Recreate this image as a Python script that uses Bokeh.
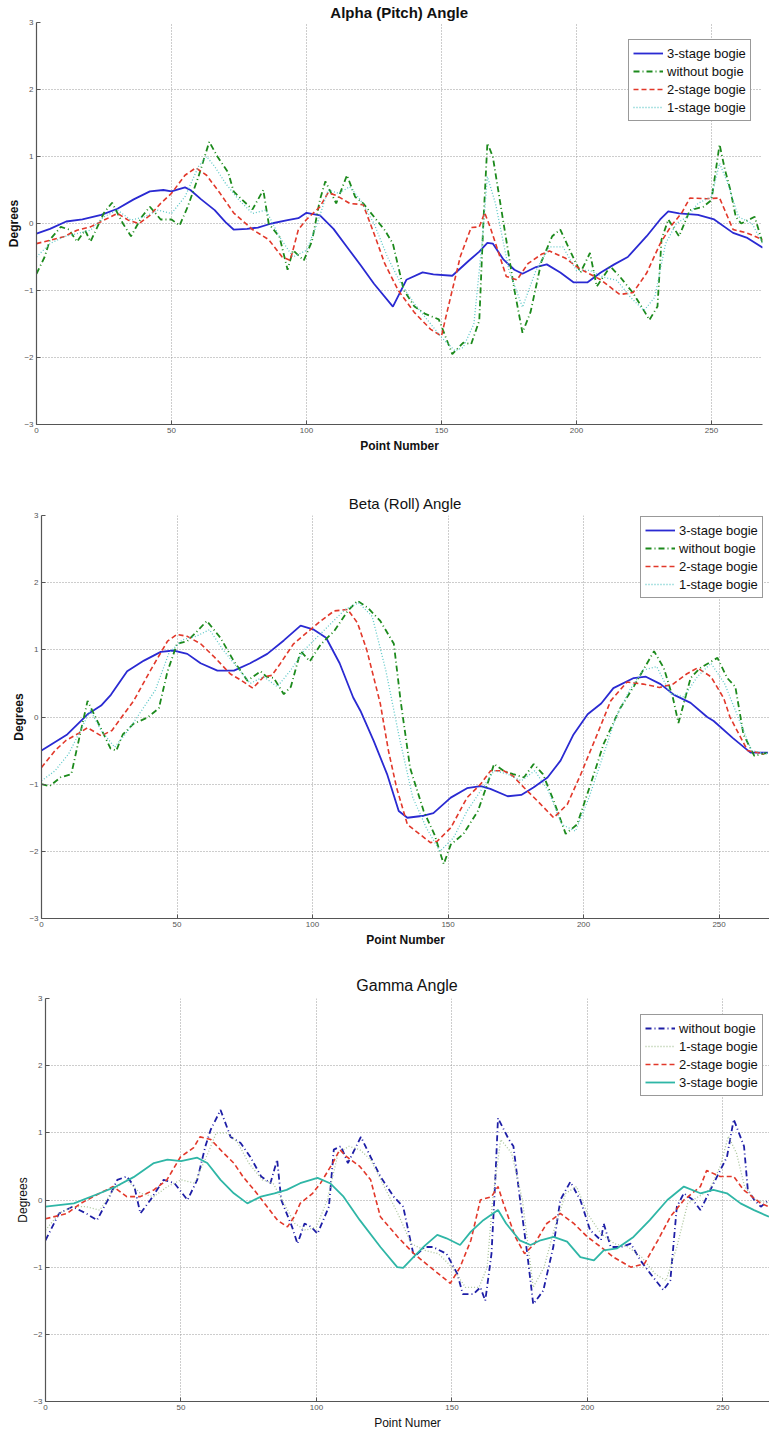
from bokeh.plotting import figure
from bokeh.layouts import column, row
from bokeh.models import Range1d, FixedTicker, Legend, LegendItem
from bokeh.embed import file_html
from bokeh.resources import INLINE

# ---------------- Alpha (Pitch) Angle ----------------
alpha_3stage_x = [0, 5, 11, 17, 24, 30, 36, 42, 47, 50, 55, 57, 61, 66, 70, 73, 78, 82, 87, 93, 97, 100, 105, 110, 115, 120, 125, 132, 137, 143, 147, 154, 160, 164, 167, 169, 173, 177, 180, 185, 189, 194, 199, 204, 209, 214, 219, 226, 231, 234, 238, 245, 251, 258, 263, 269]
alpha_3stage_y = [-0.15, -0.08, 0.03, 0.06, 0.13, 0.22, 0.36, 0.48, 0.5, 0.48, 0.54, 0.5, 0.36, 0.2, 0.02, -0.09, -0.08, -0.06, 0.0, 0.05, 0.08, 0.16, 0.12, -0.08, -0.35, -0.62, -0.9, -1.24, -0.84, -0.73, -0.76, -0.78, -0.56, -0.42, -0.29, -0.3, -0.54, -0.69, -0.75, -0.65, -0.61, -0.73, -0.88, -0.88, -0.73, -0.61, -0.5, -0.19, 0.06, 0.18, 0.15, 0.13, 0.06, -0.14, -0.21, -0.36]

alpha_without_x = [0, 3, 5, 9, 12, 15, 18, 20, 25, 28, 32, 35, 39, 42, 46, 50, 53, 56, 60, 64, 67, 71, 73, 76, 80, 84, 86, 90, 93, 95, 99, 102, 105, 107, 111, 115, 118, 121, 125, 129, 132, 136, 140, 144, 149, 154, 158, 161, 164, 165.5, 167, 169, 172, 177, 180, 183, 187, 191, 194, 198, 201.5, 205, 207.5, 212.5, 216, 221, 225, 227, 230, 231.5, 234, 238, 242, 247, 250, 253, 255, 257, 259, 261, 266, 269]
alpha_without_y = [-0.75, -0.5, -0.24, -0.05, -0.09, -0.27, -0.1, -0.27, 0.16, 0.31, 0.0, -0.19, 0.1, 0.25, 0.06, 0.06, -0.03, 0.25, 0.7, 1.22, 1.0, 0.76, 0.48, 0.36, 0.21, 0.5, 0.0, -0.2, -0.69, -0.4, -0.55, -0.27, 0.36, 0.63, 0.3, 0.72, 0.4, 0.3, 0.1, -0.1, -0.3, -0.99, -1.24, -1.35, -1.43, -1.95, -1.78, -1.8, -1.45, 0.0, 1.2, 1.0, 0.25, -0.99, -1.63, -1.32, -0.57, -0.19, -0.09, -0.44, -0.73, -0.44, -0.94, -0.64, -0.79, -1.04, -1.3, -1.44, -1.24, -0.24, 0.06, -0.19, 0.2, 0.25, 0.35, 1.18, 0.8, 0.5, 0.1, 0.0, 0.1, -0.3]

alpha_2stage_x = [0, 5, 10, 15, 20, 25, 30, 34, 38, 42, 46, 50, 55, 59, 63, 68, 73, 80, 86, 91, 94, 97, 100, 105, 108, 111, 116, 121, 125, 129, 134, 140, 146, 150, 152, 157, 161, 164, 166, 168, 172, 174, 178, 182, 187, 190, 196, 201, 209, 216, 221, 226, 231, 235, 239, 242, 248, 253, 258, 263, 269]
alpha_2stage_y = [-0.3, -0.25, -0.2, -0.1, -0.05, 0.05, 0.15, 0.05, 0.0, 0.12, 0.3, 0.45, 0.72, 0.83, 0.72, 0.45, 0.16, -0.09, -0.24, -0.5, -0.55, -0.09, 0.06, 0.25, 0.46, 0.42, 0.3, 0.28, -0.15, -0.6, -1.0, -1.33, -1.58, -1.68, -1.33, -0.49, -0.06, -0.05, 0.16, -0.05, -0.54, -0.79, -0.84, -0.6, -0.46, -0.41, -0.52, -0.67, -0.84, -1.06, -1.03, -0.74, -0.3, -0.04, 0.16, 0.38, 0.37, 0.38, -0.09, -0.14, -0.24]

alpha_1stage_x = [0, 5, 10, 15, 20, 25, 30, 35, 40, 45, 50, 55, 60, 63, 66, 70, 75, 80, 85, 90, 95, 100, 104, 108, 112, 116, 120, 125, 130, 135, 140, 145, 150, 155, 158, 162, 165, 167, 170, 175, 180, 185, 190, 195, 200, 205, 210, 215, 220, 225, 229, 233, 237, 241, 245, 250, 253, 256, 260, 265, 269]
alpha_1stage_y = [-0.5, -0.3, -0.2, -0.15, -0.1, 0.1, 0.2, 0.05, 0.1, 0.2, 0.15, 0.4, 0.85, 1.0, 0.85, 0.6, 0.35, 0.15, 0.2, -0.2, -0.5, -0.4, 0.0, 0.5, 0.45, 0.55, 0.35, 0.0, -0.5, -0.9, -1.2, -1.45, -1.7, -1.9, -1.85, -1.5, -0.3, 0.7, 0.3, -0.7, -1.25, -0.7, -0.35, -0.35, -0.7, -0.7, -0.8, -0.85, -1.1, -1.3, -1.1, -0.3, 0.0, 0.1, 0.3, 0.4, 0.9, 0.6, 0.1, 0.0, -0.3]

# ---------------- Beta (Roll) Angle ----------------
beta_3stage_x = [0, 9.5, 17, 22, 25.6, 31.6, 37.8, 44, 48.8, 53.8, 58.7, 64.9, 71, 77, 83.3, 89.4, 95.6, 100.5, 105, 110, 115, 117.7, 122.6, 127.5, 131.8, 135, 141, 144.6, 151, 157, 162, 165.6, 172, 177, 181.5, 186.7, 191.5, 196.3, 201.5, 206.5, 211, 218.5, 223, 228.4, 233.4, 239.5, 245.6, 248, 255, 261.6, 268]
beta_3stage_y = [-0.5, -0.26, 0.04, 0.17, 0.33, 0.68, 0.84, 0.97, 0.99, 0.94, 0.8, 0.69, 0.69, 0.8, 0.94, 1.14, 1.36, 1.3, 1.18, 0.8, 0.29, 0.09, -0.36, -0.85, -1.4, -1.5, -1.47, -1.43, -1.2, -1.06, -1.03, -1.07, -1.18, -1.16, -1.05, -0.9, -0.65, -0.26, 0.04, 0.2, 0.43, 0.58, 0.6, 0.49, 0.33, 0.21, 0.0, -0.06, -0.31, -0.53, -0.53]

beta_without_x = [0, 3, 7, 11, 14, 17, 20.6, 25.5, 27.6, 30, 34, 39, 43.3, 46.5, 50, 53.8, 57.5, 61, 66, 71, 76, 80.8, 83, 85.7, 89.4, 92, 95.6, 99, 103, 108, 113, 116.6, 120.3, 125, 130, 132.5, 136, 141, 145, 148.4, 151, 155.7, 161, 164.5, 167, 170.5, 174, 178, 181.6, 185, 189, 193.4, 197.6, 202.6, 207.4, 213.5, 218.6, 222.3, 226, 229.6, 233, 235, 239.5, 243, 249.4, 253, 256, 259, 263, 268]
beta_without_y = [-1.0, -1.03, -0.9, -0.85, -0.3, 0.24, -0.06, -0.47, -0.5, -0.26, -0.1, -0.01, 0.13, 0.68, 1.09, 1.13, 1.28, 1.43, 1.18, 0.83, 0.54, 0.68, 0.6, 0.58, 0.34, 0.45, 0.98, 0.83, 1.08, 1.28, 1.58, 1.73, 1.63, 1.43, 1.09, 0.24, -0.76, -1.4, -1.75, -2.19, -1.9, -1.74, -1.4, -1.0, -0.7, -0.8, -0.85, -0.9, -0.7, -0.85, -1.25, -1.74, -1.6, -1.0, -0.4, 0.13, 0.46, 0.72, 0.98, 0.73, 0.28, -0.09, 0.58, 0.73, 0.88, 0.58, 0.45, -0.26, -0.58, -0.53]

beta_2stage_x = [0, 5, 9, 13.8, 17, 22, 26, 29.6, 34, 40, 46.5, 50, 53.8, 58.7, 63.6, 69.7, 73.5, 78, 82, 85, 88, 93, 98, 103, 108, 113, 116.6, 120, 125, 128, 131, 135, 143.5, 146, 151, 157, 162, 165.7, 170.5, 174, 178, 183, 189, 194, 199, 205, 210, 216, 222, 228, 233, 238, 242, 247, 251.7, 254, 260.5, 266.6]
beta_2stage_y = [-0.75, -0.5, -0.35, -0.24, -0.16, -0.28, -0.2, 0.0, 0.24, 0.68, 1.13, 1.23, 1.2, 1.09, 0.9, 0.64, 0.55, 0.43, 0.6, 0.62, 0.79, 1.09, 1.26, 1.43, 1.58, 1.6, 1.4, 1.0, 0.2, -0.5, -1.05, -1.6, -1.87, -1.85, -1.65, -1.2, -1.0, -0.8, -0.8, -0.88, -1.05, -1.25, -1.5, -1.3, -0.85, -0.26, 0.24, 0.52, 0.49, 0.44, 0.49, 0.64, 0.73, 0.6, 0.28, 0.0, -0.5, -0.55]

beta_1stage_x = [0, 5, 10, 15, 18, 22, 27, 32, 37, 42, 47, 52, 57, 62, 67, 72, 77, 82, 87, 92, 97, 102, 107, 112, 117, 122, 127, 132, 137, 142, 147, 152, 157, 162, 167, 172, 177, 182, 187, 192, 197, 202, 207, 212, 217, 222, 227, 232, 237, 242, 247, 252, 257, 262, 268]
beta_1stage_y = [-0.95, -0.8, -0.55, -0.15, 0.1, -0.2, -0.45, -0.2, 0.1, 0.4, 0.95, 1.15, 1.2, 1.3, 1.0, 0.75, 0.5, 0.6, 0.45, 0.7, 1.0, 1.2, 1.4, 1.6, 1.7, 1.5, 0.7, -0.3, -1.2, -1.65, -2.0, -1.8, -1.4, -1.1, -0.8, -0.85, -0.95, -0.8, -1.1, -1.6, -1.7, -1.2, -0.6, 0.0, 0.4, 0.7, 0.75, 0.35, 0.3, 0.6, 0.8, 0.5, 0.0, -0.5, -0.55]

# ---------------- Gamma Angle ----------------
gamma_without_x = [0, 5, 10, 15, 19, 23, 26.5, 30, 32.8, 35, 38.7, 43.6, 47.6, 52.4, 56, 59, 61, 64.6, 68.3, 72, 75.6, 79.6, 83, 85.5, 87, 88, 91, 93, 95.6, 98, 100.4, 104.6, 106.4, 109, 111.6, 116.4, 120, 123.6, 128.5, 132, 136, 140, 143, 148, 152, 154, 158, 160.5, 162.3, 164.6, 166, 167, 171, 172.7, 175, 177.8, 180, 183.7, 187.4, 190, 193.7, 197.4, 201, 205, 206, 208.6, 212.4, 216, 219.6, 223.3, 228, 230.6, 233, 235.6, 239, 241.7, 246.6, 251.5, 254, 257.8, 259.2, 261.6, 264, 267]
gamma_without_y = [-0.6, -0.2, -0.1, -0.2, -0.3, 0.0, 0.3, 0.35, 0.2, -0.2, 0.0, 0.3, 0.25, 0.0, 0.3, 0.8, 1.05, 1.34, 0.94, 0.85, 0.64, 0.35, 0.25, 0.6, 0.0, -0.1, -0.4, -0.65, -0.35, -0.4, -0.5, -0.1, 0.75, 0.8, 0.55, 0.94, 0.64, 0.35, 0.05, -0.1, -0.85, -0.7, -0.7, -0.8, -1.1, -1.4, -1.4, -1.3, -1.5, -0.8, 0.3, 1.22, 0.9, 0.8, 0.05, -0.8, -1.55, -1.35, -0.7, 0.0, 0.27, 0.0, -0.45, -0.6, -0.35, -0.7, -0.7, -0.65, -0.9, -1.1, -1.34, -1.2, -0.1, 0.1, 0.0, -0.15, 0.25, 0.64, 1.2, 0.8, 0.15, 0.0, -0.1, 0.0]

gamma_1stage_x = [0, 5, 10, 15, 20, 25, 30, 35, 40, 45, 50, 55, 60, 63, 67, 71, 75, 80, 84, 88, 92, 96, 100, 104, 108, 112, 116, 120, 125, 130, 135, 140, 145, 150, 155, 160, 163, 165, 168, 172, 176, 180, 184, 188, 192, 196, 200, 205, 210, 215, 220, 225, 229, 233, 237, 241, 245, 249, 252, 255, 258, 262, 267]
gamma_1stage_y = [-0.45, -0.2, -0.1, -0.1, -0.15, 0.15, 0.3, 0.1, 0.05, 0.2, 0.3, 0.25, 0.7, 1.0, 1.0, 0.85, 0.55, 0.3, 0.25, -0.05, -0.35, -0.45, -0.4, 0.0, 0.7, 0.8, 0.75, 0.6, 0.2, -0.2, -0.65, -0.75, -0.8, -1.0, -1.3, -1.3, -1.0, 0.0, 0.9, 0.7, 0.0, -1.3, -1.0, -0.4, 0.1, 0.2, -0.2, -0.5, -0.65, -0.7, -0.85, -1.1, -1.2, -0.7, -0.05, 0.05, 0.15, 0.5, 0.95, 0.7, 0.2, 0.0, -0.05]

gamma_2stage_x = [0, 8, 13, 20, 25, 30, 35, 40, 44.8, 49.8, 54.7, 57, 61, 65.7, 69.5, 73, 77, 81.8, 85.6, 89.3, 91.8, 94, 98.6, 101.5, 106, 108.6, 111, 116, 120, 123.6, 130, 136, 142, 149.4, 153, 157, 160.5, 164.6, 167, 169, 173.4, 176.8, 180.5, 185, 190, 195, 200, 205, 209.6, 216, 221, 226, 230.6, 235.6, 241.7, 244, 249, 254, 257.6, 264, 267]
gamma_2stage_y = [-0.28, -0.2, -0.05, 0.1, 0.2, 0.05, 0.05, 0.15, 0.3, 0.64, 0.78, 0.94, 0.9, 0.7, 0.55, 0.34, 0.15, -0.1, -0.3, -0.4, -0.25, -0.05, 0.1, 0.25, 0.55, 0.75, 0.65, 0.5, 0.3, -0.25, -0.55, -0.8, -1.0, -1.24, -1.0, -0.6, 0.0, 0.05, 0.2, -0.05, -0.55, -0.8, -0.65, -0.35, -0.2, -0.35, -0.55, -0.7, -0.85, -1.0, -0.95, -0.6, -0.25, 0.0, 0.2, 0.44, 0.35, 0.35, 0.15, -0.05, -0.1]

gamma_3stage_x = [0, 10.5, 20, 26, 32.5, 40, 45, 50, 56, 59.7, 64.6, 69.5, 74.5, 79.5, 84.5, 89, 94, 100.4, 105, 110, 116, 123.6, 129.8, 132, 135.8, 140, 144.6, 148, 153, 157, 161.6, 167, 170, 175, 179, 182.7, 187.5, 192.5, 197.4, 202.4, 206, 211, 217, 223, 229.5, 235.6, 241.7, 246.5, 251.5, 256.5, 261.5, 267]
gamma_3stage_y = [-0.1, -0.05, 0.1, 0.2, 0.34, 0.55, 0.6, 0.58, 0.63, 0.55, 0.3, 0.1, -0.05, 0.05, 0.1, 0.15, 0.25, 0.33, 0.25, 0.05, -0.3, -0.7, -1.0, -1.01, -0.85, -0.68, -0.52, -0.57, -0.67, -0.47, -0.3, -0.15, -0.35, -0.6, -0.67, -0.6, -0.55, -0.62, -0.85, -0.9, -0.75, -0.72, -0.55, -0.3, 0.0, 0.2, 0.1, 0.15, 0.1, -0.05, -0.15, -0.25]

x_ticks = [0, 50, 100, 150, 200, 250]
y_ticks = [-3, -2, -1, 0, 1, 2, 3]

FONT = "Liberation Sans"
STYLES = {
    "solid": None,
    "dashdot": "6 3 1 3",
    "dashed": "5 3",
    "dotted": "1 2",
}


def make_fig(title, xlabel, height, top, bottom, left, right, x_end, title_bold, title_size,
             title_standoff, title_valign, label_style, series, legend_xy):
    p = figure(width=769, height=height, x_range=Range1d(0, x_end), y_range=Range1d(-3, 3),
               output_backend="svg", toolbar_location=None,
               min_border_left=left, min_border_right=right, min_border_top=top,
               min_border_bottom=bottom)
    p.outline_line_color = None
    p.background_fill_color = "white"
    p.border_fill_color = "white"
    p.title.text = title
    p.title.align = "center"
    p.title.text_font = FONT
    p.title.text_font_size = title_size
    p.title.text_font_style = "bold" if title_bold else "normal"
    p.title.text_color = "#111111"
    p.title.standoff = title_standoff
    p.title.vertical_align = title_valign
    for ax in (p.xaxis[0], p.yaxis[0]):
        ax.axis_line_color = "#555555"
        ax.axis_line_width = 1.2
        ax.major_tick_in = 4
        ax.major_tick_out = 0
        ax.major_tick_line_color = "#555555"
        ax.minor_tick_line_color = None
        ax.major_label_text_font = FONT
        ax.major_label_text_font_size = "8px"
        ax.major_label_text_color = "#555555"
        ax.major_label_standoff = 3
        ax.axis_label_text_font = FONT
        ax.axis_label_text_font_size = "12px"
        ax.axis_label_text_font_style = label_style
        ax.axis_label_text_color = "#111111"
    p.xaxis.ticker = FixedTicker(ticks=x_ticks)
    p.yaxis.ticker = FixedTicker(ticks=y_ticks)
    p.xaxis.axis_label = xlabel
    p.yaxis.axis_label = "Degrees"
    p.xaxis.axis_label_standoff = 3
    p.yaxis.axis_label_standoff = 0
    for g in (p.xgrid[0], p.ygrid[0]):
        g.grid_line_color = "#9a9a9a"
        g.grid_line_dash = "1 2"
        g.grid_line_width = 1
    items = []
    for label, xs, ys, color, style, width in series:
        kw = {}
        if STYLES[style] is not None:
            kw["line_dash"] = STYLES[style]
        r = p.line(xs, ys, line_color=color, line_width=width, **kw)
        items.append(LegendItem(label=label, renderers=[r]))
    leg = Legend(items=items, location=legend_xy)
    leg.label_text_font = FONT
    leg.label_text_font_size = "13px"
    leg.label_text_color = "#111111"
    leg.glyph_width = 30
    leg.glyph_height = 18
    leg.label_height = 18
    leg.label_standoff = 4
    leg.spacing = 0
    leg.padding = 4
    leg.margin = 0
    leg.border_line_color = "#333333"
    leg.border_line_width = 1
    leg.background_fill_alpha = 1
    p.add_layout(leg)
    return p


BLUE = "#2a2ad2"
GREEN = "#1c8a1c"
RED = "#e2382a"
CYAN = "#5ec8c8"

p1 = make_fig("Alpha (Pitch) Angle", "Point Number", 480, 22, 56, 36, 7, 268.9, True, "15px", 0, "top", "bold",
              [("3-stage bogie", alpha_3stage_x, alpha_3stage_y, BLUE, "solid", 1.8),
               ("without bogie", alpha_without_x, alpha_without_y, GREEN, "dashdot", 1.8),
               ("2-stage bogie", alpha_2stage_x, alpha_2stage_y, RED, "dashed", 1.6),
               ("1-stage bogie", alpha_1stage_x, alpha_1stage_y, CYAN, "dotted", 1.3)],
              (592, 303))

p2 = make_fig("Beta (Roll) Angle", "Point Number", 478, 35, 40, 41, 0, 268.6, False, "15px", 8, "bottom", "bold",
              [("3-stage bogie", beta_3stage_x, beta_3stage_y, BLUE, "solid", 1.8),
               ("without bogie", beta_without_x, beta_without_y, GREEN, "dashdot", 1.8),
               ("2-stage bogie", beta_2stage_x, beta_2stage_y, RED, "dashed", 1.6),
               ("1-stage bogie", beta_1stage_x, beta_1stage_y, CYAN, "dotted", 1.3)],
              (599, 320))

p3 = make_fig("Gamma Angle", "Point Numer", 479, 40, 36, 45, 0, 267.2, False, "16px", 9, "bottom", "normal",
              [("without bogie", gamma_without_x, gamma_without_y, "#1e1ea6", "dashdot", 1.8),
               ("1-stage bogie", gamma_1stage_x, gamma_1stage_y, "#a9c49a", "dotted", 1.3),
               ("2-stage bogie", gamma_2stage_x, gamma_2stage_y, RED, "dashed", 1.6),
               ("3-stage bogie", gamma_3stage_x, gamma_3stage_y, "#2fb6a6", "solid", 1.8)],
              (595, 305))

p = column(row(p1), row(p2), row(p3), spacing=0)
open("out.html", "w").write(file_html(p, INLINE))
